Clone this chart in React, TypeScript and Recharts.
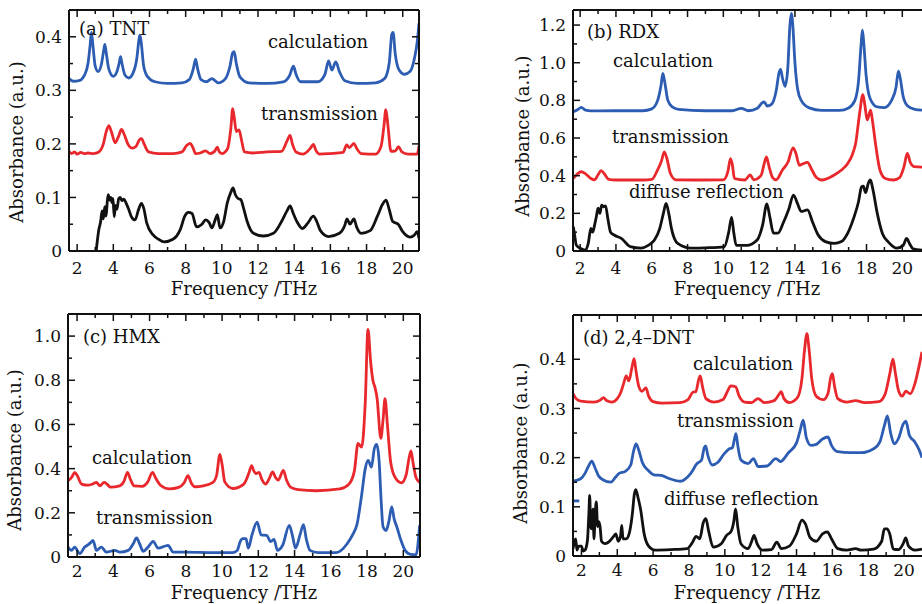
import React from "react";
import { LineChart, Line, XAxis, YAxis } from "recharts";

const FONT = '"DejaVu Serif", serif';
const BLUE = "#2d5cb3";
const RED = "#e8282c";
const BLACK = "#111111";

const freqTicks = [2, 3, 4, 5, 6, 7, 8, 9, 10, 11, 12, 13, 14, 15, 16, 17, 18, 19, 20];
const yTicksSmall = [0, 0.05, 0.1, 0.15, 0.2, 0.25, 0.3, 0.35, 0.4];
const yTicksRdx = [0, 0.1, 0.2, 0.3, 0.4, 0.5, 0.6, 0.7, 0.8, 0.9, 1.0, 1.1, 1.2];
const yTicksHmx = [0, 0.1, 0.2, 0.3, 0.4, 0.5, 0.6, 0.7, 0.8, 0.9, 1.0];

// (a) TNT
const tntCalc = [[1.55,0.322],[1.8,0.317],[2.1,0.318],[2.4,0.328],[2.6,0.35],[2.72,0.385],[2.79,0.408],[2.87,0.385],[3.0,0.345],[3.16,0.335],[3.35,0.35],[3.47,0.375],[3.53,0.386],[3.6,0.372],[3.75,0.34],[4.0,0.326],[4.2,0.335],[4.33,0.352],[4.4,0.363],[4.48,0.35],[4.65,0.328],[4.85,0.323],[5.1,0.333],[5.3,0.36],[5.42,0.395],[5.47,0.403],[5.54,0.39],[5.68,0.345],[5.9,0.325],[6.3,0.316],[7.0,0.313],[7.8,0.314],[8.2,0.32],[8.42,0.34],[8.55,0.358],[8.65,0.342],[8.85,0.32],[9.15,0.316],[9.45,0.322],[9.55,0.32],[9.8,0.314],[10.2,0.322],[10.45,0.345],[10.6,0.37],[10.68,0.372],[10.8,0.35],[11.0,0.325],[11.5,0.314],[12.5,0.313],[13.4,0.316],[13.75,0.328],[13.96,0.345],[14.1,0.33],[14.35,0.316],[15.3,0.316],[15.7,0.33],[15.9,0.355],[16.08,0.338],[16.3,0.353],[16.5,0.335],[16.8,0.318],[17.5,0.313],[18.5,0.314],[19.0,0.322],[19.25,0.35],[19.4,0.405],[19.47,0.408],[19.58,0.37],[19.8,0.338],[20.1,0.33],[20.4,0.335],[20.65,0.36],[20.8,0.39],[20.9,0.425]];
const tntTrans = [[1.55,0.186],[1.7,0.182],[1.85,0.185],[2.0,0.181],[2.2,0.184],[2.4,0.182],[2.6,0.183],[2.9,0.182],[3.2,0.185],[3.45,0.2],[3.6,0.222],[3.75,0.234],[3.9,0.222],[4.1,0.202],[4.3,0.215],[4.45,0.227],[4.6,0.218],[4.8,0.2],[5.05,0.192],[5.25,0.195],[5.45,0.208],[5.56,0.21],[5.7,0.2],[5.95,0.185],[6.5,0.182],[7.3,0.182],[7.8,0.185],[8.05,0.197],[8.25,0.201],[8.4,0.193],[8.55,0.182],[8.8,0.183],[9.1,0.187],[9.35,0.182],[9.6,0.186],[9.75,0.194],[9.85,0.186],[10.0,0.182],[10.3,0.19],[10.5,0.23],[10.6,0.266],[10.7,0.245],[10.8,0.223],[10.95,0.226],[11.1,0.205],[11.25,0.185],[11.7,0.183],[12.5,0.185],[13.3,0.186],[13.6,0.205],[13.77,0.216],[13.9,0.2],[14.1,0.185],[14.5,0.181],[14.9,0.192],[15.06,0.199],[15.2,0.188],[15.4,0.181],[16.0,0.182],[16.7,0.184],[16.9,0.198],[17.05,0.193],[17.3,0.201],[17.45,0.192],[17.7,0.182],[18.5,0.181],[18.8,0.195],[18.95,0.23],[19.07,0.264],[19.18,0.235],[19.35,0.186],[19.6,0.187],[19.77,0.195],[19.95,0.185],[20.3,0.181],[20.8,0.181],[20.9,0.196]];
const tntDiffuse = [[3.05,0.0],[3.12,0.02],[3.2,0.04],[3.3,0.055],[3.38,0.075],[3.45,0.06],[3.53,0.083],[3.6,0.065],[3.66,0.09],[3.72,0.105],[3.8,0.095],[3.86,0.1],[3.93,0.09],[3.98,0.098],[4.05,0.064],[4.12,0.085],[4.2,0.078],[4.3,0.098],[4.38,0.1],[4.48,0.094],[4.58,0.097],[4.7,0.09],[4.85,0.078],[5.0,0.064],[5.2,0.058],[5.4,0.078],[5.55,0.089],[5.68,0.08],[5.85,0.052],[6.2,0.03],[6.5,0.022],[6.8,0.017],[7.3,0.022],[7.7,0.04],[7.95,0.065],[8.15,0.072],[8.35,0.07],[8.6,0.045],[8.9,0.05],[9.1,0.058],[9.3,0.053],[9.45,0.043],[9.65,0.06],[9.75,0.068],[9.9,0.043],[10.1,0.055],[10.3,0.09],[10.5,0.11],[10.62,0.118],[10.75,0.105],[10.9,0.098],[11.05,0.096],[11.2,0.08],[11.4,0.055],[11.75,0.033],[12.3,0.028],[12.85,0.033],[13.3,0.055],[13.6,0.075],[13.77,0.084],[13.95,0.07],[14.15,0.055],[14.45,0.042],[14.75,0.052],[15.06,0.065],[15.25,0.055],[15.45,0.038],[15.9,0.027],[16.5,0.033],[16.8,0.048],[16.92,0.06],[17.08,0.05],[17.3,0.06],[17.45,0.045],[17.7,0.033],[18.2,0.038],[18.6,0.065],[18.9,0.088],[19.08,0.095],[19.25,0.078],[19.45,0.055],[19.75,0.05],[20.0,0.036],[20.4,0.026],[20.65,0.03],[20.8,0.036],[20.9,0.024]];

// (b) RDX
const rdxCalc = [[1.62,0.74],[1.85,0.75],[2.06,0.763],[2.3,0.748],[2.6,0.744],[4.0,0.745],[5.5,0.745],[6.0,0.755],[6.33,0.8],[6.52,0.88],[6.62,0.943],[6.72,0.9],[6.9,0.8],[7.15,0.765],[7.5,0.752],[9.0,0.745],[10.5,0.745],[11.0,0.758],[11.4,0.745],[11.9,0.758],[12.15,0.785],[12.28,0.792],[12.45,0.77],[12.7,0.78],[12.95,0.85],[13.12,0.95],[13.2,0.965],[13.3,0.92],[13.45,0.875],[13.6,0.97],[13.72,1.2],[13.8,1.262],[13.88,1.2],[14.0,1.0],[14.15,0.86],[14.35,0.8],[14.8,0.76],[15.5,0.747],[16.5,0.747],[17.0,0.76],[17.35,0.8],[17.55,0.9],[17.7,1.1],[17.77,1.173],[17.85,1.1],[17.98,0.93],[18.2,0.81],[18.6,0.765],[19.0,0.762],[19.4,0.8],[19.65,0.87],[19.78,0.955],[19.88,0.92],[20.05,0.82],[20.3,0.77],[20.7,0.752],[21.1,0.748]];
const rdxTrans = [[1.62,0.386],[1.85,0.41],[2.06,0.421],[2.3,0.41],[2.6,0.385],[2.8,0.378],[3.0,0.405],[3.17,0.427],[3.35,0.41],[3.6,0.38],[4.0,0.377],[5.5,0.377],[6.0,0.38],[6.3,0.425],[6.55,0.48],[6.7,0.527],[6.85,0.49],[7.05,0.41],[7.35,0.378],[8.5,0.377],[10.0,0.378],[10.25,0.42],[10.4,0.49],[10.5,0.46],[10.62,0.385],[11.2,0.377],[11.5,0.404],[11.7,0.378],[12.1,0.4],[12.3,0.47],[12.41,0.5],[12.55,0.45],[12.75,0.39],[12.95,0.378],[13.3,0.43],[13.6,0.47],[13.9,0.548],[14.05,0.52],[14.25,0.455],[14.42,0.462],[14.7,0.471],[14.95,0.43],[15.2,0.39],[15.5,0.377],[16.2,0.404],[16.6,0.43],[16.95,0.465],[17.2,0.51],[17.4,0.575],[17.6,0.72],[17.8,0.83],[17.9,0.78],[18.04,0.696],[18.23,0.748],[18.35,0.68],[18.5,0.572],[18.75,0.43],[19.05,0.385],[19.5,0.377],[19.85,0.39],[20.1,0.45],[20.28,0.518],[20.45,0.47],[20.65,0.448],[21.1,0.446]];
const rdxDiffuse = [[1.62,0.129],[1.7,0.08],[1.78,0.032],[2.0,0.015],[2.3,0.005],[2.45,0.04],[2.6,0.12],[2.7,0.1],[2.8,0.135],[2.9,0.18],[3.0,0.227],[3.1,0.2],[3.2,0.244],[3.3,0.235],[3.42,0.24],[3.55,0.17],[3.7,0.1],[3.9,0.085],[4.3,0.067],[4.8,0.023],[5.4,0.015],[5.8,0.03],[6.15,0.058],[6.45,0.12],[6.65,0.2],[6.8,0.253],[6.95,0.2],[7.1,0.12],[7.45,0.04],[8.2,0.015],[9.0,0.017],[10.05,0.022],[10.3,0.1],[10.46,0.179],[10.58,0.1],[10.72,0.03],[11.3,0.03],[11.9,0.06],[12.2,0.14],[12.43,0.25],[12.6,0.18],[12.8,0.095],[13.05,0.095],[13.35,0.15],[13.65,0.22],[13.92,0.297],[14.15,0.25],[14.35,0.21],[14.7,0.218],[15.0,0.15],[15.3,0.085],[15.7,0.05],[16.2,0.04],[16.6,0.05],[16.95,0.095],[17.3,0.18],[17.55,0.26],[17.72,0.34],[17.82,0.345],[17.95,0.31],[18.1,0.36],[18.22,0.377],[18.35,0.33],[18.6,0.2],[18.9,0.09],[19.2,0.05],[19.7,0.015],[20.05,0.03],[20.24,0.067],[20.4,0.04],[20.6,0.012],[21.1,0.005]];

// (c) HMX
const hmxCalc = [[1.5,0.346],[1.7,0.36],[1.87,0.383],[2.0,0.37],[2.25,0.33],[2.6,0.325],[2.85,0.33],[3.07,0.338],[3.25,0.322],[3.5,0.338],[3.65,0.33],[3.85,0.316],[4.35,0.322],[4.6,0.345],[4.78,0.383],[4.95,0.35],[5.15,0.322],[5.6,0.32],[5.9,0.34],[6.16,0.383],[6.35,0.355],[6.6,0.325],[7.1,0.308],[7.6,0.315],[7.9,0.335],[8.12,0.368],[8.3,0.335],[8.5,0.318],[8.95,0.322],[9.5,0.338],[9.7,0.37],[9.88,0.465],[10.0,0.42],[10.15,0.34],[10.6,0.31],[11.2,0.33],[11.5,0.385],[11.63,0.414],[11.75,0.39],[11.87,0.378],[12.04,0.383],[12.2,0.35],[12.4,0.33],[12.6,0.355],[12.79,0.385],[12.95,0.36],[13.1,0.348],[13.38,0.392],[13.55,0.35],[13.8,0.315],[14.2,0.305],[15.2,0.3],[16.5,0.308],[17.0,0.33],[17.3,0.39],[17.5,0.514],[17.7,0.497],[17.9,0.7],[18.05,1.03],[18.2,0.88],[18.32,0.8],[18.44,0.767],[18.55,0.72],[18.76,0.537],[18.88,0.62],[18.99,0.717],[19.12,0.6],[19.3,0.43],[19.55,0.36],[19.9,0.336],[20.15,0.37],[20.3,0.44],[20.42,0.48],[20.55,0.42],[20.7,0.36],[20.9,0.338]];
const hmxTrans = [[1.5,0.045],[1.69,0.03],[1.87,0.045],[2.15,0.015],[2.42,0.045],[2.6,0.055],[2.75,0.065],[2.88,0.075],[3.07,0.03],[3.34,0.045],[3.62,0.022],[4.08,0.03],[4.36,0.022],[4.82,0.03],[5.1,0.06],[5.28,0.086],[5.45,0.06],[5.65,0.026],[5.92,0.045],[6.2,0.071],[6.47,0.04],[7.02,0.053],[7.3,0.022],[8.0,0.022],[9.5,0.02],[10.6,0.02],[10.84,0.03],[11.0,0.07],[11.15,0.083],[11.32,0.083],[11.45,0.04],[11.65,0.1],[11.94,0.158],[12.15,0.1],[12.46,0.098],[12.68,0.07],[12.87,0.08],[13.05,0.03],[13.34,0.053],[13.71,0.143],[13.9,0.09],[14.05,0.04],[14.3,0.1],[14.49,0.146],[14.65,0.08],[14.85,0.03],[15.3,0.02],[16.3,0.02],[16.9,0.06],[17.2,0.1],[17.45,0.15],[17.7,0.28],[17.9,0.4],[18.06,0.437],[18.24,0.407],[18.4,0.49],[18.53,0.51],[18.66,0.44],[18.78,0.25],[18.88,0.137],[19.05,0.12],[19.2,0.16],[19.36,0.227],[19.5,0.17],[19.64,0.137],[19.85,0.08],[20.1,0.03],[20.4,0.012],[20.7,0.01],[20.9,0.143]];

// (d) 2,4-DNT
const dntCalc = [[1.53,0.33],[1.7,0.32],[1.96,0.315],[2.7,0.313],[3.05,0.317],[3.23,0.322],[3.4,0.316],[3.7,0.313],[4.0,0.32],[4.2,0.333],[4.35,0.35],[4.5,0.366],[4.65,0.356],[4.8,0.38],[4.94,0.401],[5.05,0.375],[5.2,0.345],[5.38,0.335],[5.6,0.342],[5.75,0.325],[6.0,0.314],[6.5,0.311],[7.5,0.312],[7.95,0.318],[8.22,0.333],[8.38,0.334],[8.55,0.36],[8.63,0.366],[8.75,0.345],[8.95,0.32],[9.4,0.313],[9.9,0.318],[10.15,0.335],[10.33,0.346],[10.6,0.344],[10.8,0.325],[11.1,0.313],[11.5,0.312],[11.85,0.32],[12.2,0.312],[12.75,0.316],[13.05,0.33],[13.14,0.334],[13.3,0.32],[13.6,0.312],[14.05,0.322],[14.3,0.36],[14.45,0.42],[14.58,0.452],[14.7,0.42],[14.85,0.36],[15.1,0.325],[15.5,0.318],[15.75,0.33],[15.92,0.365],[16.0,0.371],[16.12,0.345],[16.3,0.32],[16.8,0.313],[17.3,0.316],[17.8,0.312],[18.6,0.314],[18.95,0.33],[19.2,0.37],[19.38,0.4],[19.5,0.375],[19.7,0.335],[19.9,0.325],[20.1,0.335],[20.35,0.33],[20.6,0.35],[20.8,0.38],[21.0,0.415]];
const dntTrans = [[1.53,0.152],[1.96,0.157],[2.2,0.168],[2.4,0.183],[2.58,0.193],[2.75,0.18],[2.95,0.163],[3.2,0.155],[3.64,0.15],[3.9,0.16],[4.1,0.168],[4.45,0.172],[4.75,0.185],[4.92,0.215],[5.05,0.228],[5.2,0.215],[5.4,0.19],[5.7,0.175],[6.05,0.165],[6.45,0.164],[6.85,0.158],[7.5,0.152],[8.1,0.168],[8.45,0.188],[8.7,0.195],[8.85,0.22],[8.93,0.224],[9.05,0.205],[9.3,0.185],[9.6,0.19],[9.95,0.207],[10.25,0.218],[10.42,0.22],[10.55,0.24],[10.62,0.249],[10.72,0.225],[10.9,0.195],[11.3,0.188],[11.6,0.198],[11.85,0.182],[12.35,0.183],[12.85,0.198],[13.1,0.192],[13.55,0.21],[14.0,0.23],[14.2,0.255],[14.37,0.276],[14.55,0.24],[14.8,0.225],[15.1,0.227],[15.45,0.238],[15.75,0.242],[15.95,0.225],[16.3,0.212],[17.0,0.21],[17.6,0.21],[18.3,0.218],[18.65,0.232],[18.9,0.265],[19.07,0.285],[19.25,0.25],[19.45,0.228],[19.7,0.24],[19.95,0.268],[20.1,0.274],[20.3,0.245],[20.6,0.232],[20.85,0.215],[21.0,0.2]];
const dntTransStub = [[1.53,0.112],[1.88,0.112]];
const dntDiffuse = [[1.53,0.015],[1.62,0.03],[1.68,0.035],[1.75,0.012],[1.85,0.02],[2.0,0.02],[2.1,0.01],[2.2,0.012],[2.33,0.03],[2.42,0.09],[2.46,0.123],[2.52,0.06],[2.58,0.055],[2.65,0.096],[2.7,0.035],[2.76,0.08],[2.83,0.11],[2.9,0.06],[2.97,0.07],[3.04,0.06],[3.12,0.03],[3.3,0.025],[3.5,0.028],[3.8,0.04],[3.92,0.045],[4.05,0.03],[4.18,0.04],[4.25,0.062],[4.32,0.035],[4.5,0.035],[4.66,0.045],[4.84,0.085],[4.95,0.125],[5.03,0.135],[5.15,0.12],[5.3,0.095],[5.5,0.045],[5.75,0.02],[6.1,0.012],[7.0,0.013],[7.9,0.015],[8.2,0.028],[8.4,0.04],[8.6,0.035],[8.8,0.068],[8.94,0.076],[9.1,0.05],[9.35,0.018],[9.8,0.025],[10.1,0.042],[10.35,0.05],[10.5,0.07],[10.6,0.096],[10.72,0.06],[10.9,0.025],[11.3,0.015],[11.5,0.03],[11.63,0.042],[11.8,0.025],[12.1,0.012],[12.6,0.013],[12.9,0.028],[13.15,0.015],[13.6,0.02],[14.0,0.045],[14.3,0.073],[14.5,0.065],[14.75,0.038],[15.1,0.03],[15.45,0.045],[15.72,0.049],[15.95,0.035],[16.3,0.015],[16.8,0.012],[17.3,0.015],[17.6,0.012],[18.3,0.014],[18.75,0.03],[18.9,0.055],[19.05,0.055],[19.2,0.045],[19.4,0.014],[19.7,0.013],[19.95,0.025],[20.09,0.037],[20.25,0.02],[20.6,0.012],[21.0,0.014]];

const pts = (a: number[][]) => a.map(([x, y]) => ({ x, y }));

const isMajor = (v: number, step: number) => Math.abs(v / step - Math.round(v / step)) < 1e-6;

const bottomTick = (gap: number) => (props: any) => {
  const { x, y, payload } = props;
  const v = payload.value;
  const major = v % 2 === 0;
  return (
    <g>
      <line x1={x} x2={x} y1={y} y2={y - (major ? 7 : 4)} stroke={BLACK} strokeWidth={1.5} />
      {major && (
        <text x={x} y={y + gap} textAnchor="middle" fontSize={17} fontFamily={FONT} fill={BLACK}>
          {v}
        </text>
      )}
    </g>
  );
};

const topTick = (props: any) => {
  const { x, y, payload } = props;
  const major = payload.value % 2 === 0;
  return <line x1={x} x2={x} y1={y} y2={y + (major ? 7 : 4)} stroke={BLACK} strokeWidth={1.5} />;
};

const leftTick = (step: number) => (props: any) => {
  const { x, y, payload } = props;
  const v = payload.value;
  const major = isMajor(v, step);
  return (
    <g>
      <line x1={x} x2={x + (major ? 7 : 4)} y1={y} y2={y} stroke={BLACK} strokeWidth={1.5} />
      {major && (
        <text x={x - 7} y={y} dy="0.36em" textAnchor="end" fontSize={17} fontFamily={FONT} fill={BLACK}>
          {v === 0 ? "0" : v.toFixed(1)}
        </text>
      )}
    </g>
  );
};

const rightTick = (step: number) => (props: any) => {
  const { x, y, payload } = props;
  const major = isMajor(payload.value, step);
  return <line x1={x} x2={x - (major ? 7 : 4)} y1={y} y2={y} stroke={BLACK} strokeWidth={1.5} />;
};

const frame = { stroke: BLACK, strokeWidth: 2 };

type Series = { data: number[][]; color: string };

function Panel(props: {
  left: number;
  top: number;
  margin: { top: number; right: number; bottom: number; left: number };
  xDomain: [number, number];
  yDomain: [number, number];
  yTicks: number[];
  step: number;
  gap: number;
  right: boolean;
  series: Series[];
}) {
  const { left, top, margin, xDomain, yDomain, yTicks, step, gap, right, series } = props;
  return (
    <div style={{ position: "absolute", left, top }}>
      <LineChart width={461} height={302} margin={margin}>
        <XAxis xAxisId="b" type="number" dataKey="x" domain={xDomain} allowDataOverflow ticks={freqTicks} interval={0}
          height={1} tickSize={0} tickMargin={0} tickLine={false} tick={bottomTick(gap)} axisLine={frame} />
        <XAxis xAxisId="t" orientation="top" type="number" dataKey="x" domain={xDomain} allowDataOverflow ticks={freqTicks}
          interval={0} height={1} tickSize={0} tickMargin={0} tickLine={false} tick={topTick} axisLine={frame} />
        <YAxis yAxisId="l" type="number" domain={yDomain} allowDataOverflow ticks={yTicks} interval={0}
          width={1} tickSize={0} tickMargin={0} tickLine={false} tick={leftTick(step)} axisLine={frame} />
        {right && (
          <YAxis yAxisId="r" orientation="right" type="number" domain={yDomain} allowDataOverflow ticks={yTicks}
            interval={0} width={1} tickSize={0} tickMargin={0} tickLine={false} tick={rightTick(step)} axisLine={frame} />
        )}
        {series.map((s, i) => (
          <Line key={i} xAxisId="b" yAxisId="l" data={pts(s.data)} dataKey="y" type="monotone" stroke={s.color}
            strokeWidth={2.8} dot={false} isAnimationActive={false} />
        ))}
      </LineChart>
    </div>
  );
}

const labels = [
  { x: 79, y: 35, t: "(a) TNT" },
  { x: 268, y: 48, t: "calculation" },
  { x: 261, y: 120, t: "transmission" },
  { x: 587, y: 38, t: "(b) RDX" },
  { x: 613, y: 67, t: "calculation" },
  { x: 612, y: 143, t: "transmission" },
  { x: 629, y: 198, t: "diffuse reflection" },
  { x: 83, y: 343, t: "(c) HMX" },
  { x: 92, y: 464, t: "calculation" },
  { x: 96, y: 524, t: "transmission" },
  { x: 583, y: 344, t: "(d) 2,4–DNT" },
  { x: 693, y: 370, t: "calculation" },
  { x: 677, y: 427, t: "transmission" },
  { x: 664, y: 505, t: "diffuse reflection" },
];

const xTitles = [
  { x: 244, y: 295 },
  { x: 747, y: 295 },
  { x: 244, y: 599 },
  { x: 747, y: 599 },
];

const yTitles = [
  { x: 23, y: 142 },
  { x: 529, y: 136 },
  { x: 21, y: 450 },
  { x: 527, y: 443 },
];

export default function App() {
  return (
    <div style={{ position: "absolute", left: 0, top: 0, width: 922, height: 604, background: "#fff", overflow: "hidden" }}>
      <Panel left={0} top={0} margin={{ top: 9, right: 41, bottom: 50, left: 68 }} xDomain={[1.55, 20.9]} yDomain={[0, 0.45]}
        yTicks={yTicksSmall} step={0.1} gap={23} right
        series={[{ data: tntCalc, color: BLUE }, { data: tntTrans, color: RED }, { data: tntDiffuse, color: BLACK }]} />
      <Panel left={461} top={0} margin={{ top: 9, right: 0, bottom: 50, left: 111 }} xDomain={[1.6, 21.1]} yDomain={[0, 1.28]}
        yTicks={yTicksRdx} step={0.2} gap={23} right={false}
        series={[{ data: rdxCalc, color: BLUE }, { data: rdxTrans, color: RED }, { data: rdxDiffuse, color: BLACK }]} />
      <Panel left={0} top={302} margin={{ top: 11, right: 40, bottom: 46, left: 67 }} xDomain={[1.5, 20.92]} yDomain={[0, 1.1]}
        yTicks={yTicksHmx} step={0.2} gap={20} right
        series={[{ data: hmxCalc, color: RED }, { data: hmxTrans, color: BLUE }]} />
      <Panel left={461} top={302} margin={{ top: 12, right: 0, bottom: 47, left: 111 }} xDomain={[1.53, 21.0]} yDomain={[0, 0.49]}
        yTicks={yTicksSmall} step={0.1} gap={20} right={false}
        series={[{ data: dntCalc, color: RED }, { data: dntTrans, color: BLUE }, { data: dntTransStub, color: BLUE }, { data: dntDiffuse, color: BLACK }]} />
      <svg width={922} height={604} style={{ position: "absolute", left: 0, top: 0, pointerEvents: "none" }}>
        <g fontFamily={FONT} fontSize={18} fill={BLACK}>
          {labels.map((l, i) => (
            <text key={i} x={l.x} y={l.y}>{l.t}</text>
          ))}
          {xTitles.map((p, i) => (
            <text key={"x" + i} x={p.x} y={p.y} textAnchor="middle">Frequency /THz</text>
          ))}
          {yTitles.map((p, i) => (
            <text key={"y" + i} x={p.x} y={p.y} textAnchor="middle" transform={`rotate(-90 ${p.x} ${p.y})`}>Absorbance (a.u.)</text>
          ))}
        </g>
      </svg>
    </div>
  );
}
